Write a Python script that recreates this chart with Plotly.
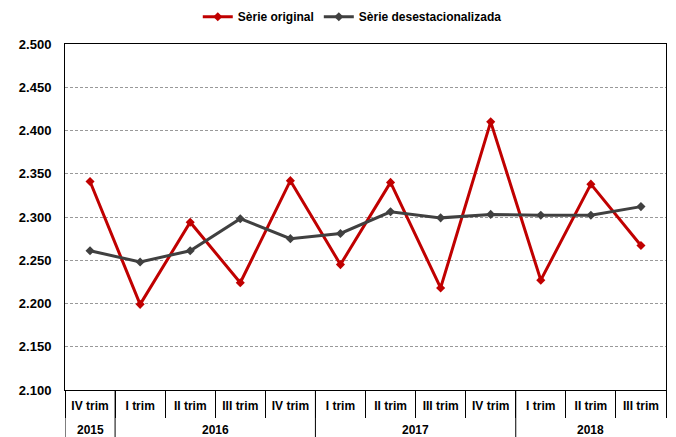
import plotly.graph_objects as go

years = ["2015", "2016", "2016", "2016", "2016", "2017", "2017", "2017", "2017", "2018", "2018", "2018"]
quarters = ["IV trim", "I trim", "II trim", "III trim", "IV trim", "I trim", "II trim", "III trim", "IV trim", "I trim", "II trim", "III trim"]
serie_original = [2341, 2199, 2294, 2224, 2342, 2245, 2340, 2218, 2410, 2227, 2338, 2267]
serie_desest = [2261, 2248, 2261, 2298, 2275, 2281, 2306, 2299, 2303, 2302, 2302, 2312]
y_ticks = [2100, 2150, 2200, 2250, 2300, 2350, 2400, 2450, 2500]

font_family = "Liberation Sans Narrow, Arial Narrow, Liberation Sans, Arial"

x_keys = [f"{q} {y}" for q, y in zip(quarters, years)]

fig = go.Figure()
fig.add_trace(go.Scatter(
    x=x_keys, y=serie_original, name="Sèrie original",
    mode="lines+markers", line=dict(color="#C00000", width=3),
    marker=dict(symbol="diamond", size=7, color="#C00000")))
fig.add_trace(go.Scatter(
    x=x_keys, y=serie_desest, name="Sèrie desestacionalizada",
    mode="lines+markers", line=dict(color="#404040", width=3),
    marker=dict(symbol="diamond", size=7, color="#404040")))

plot_h = 437 - 44 - 47
bottom_frac = -47 / plot_h

# year group labels and dividers
groups = []
for i, y in enumerate(years):
    if not groups or groups[-1][0] != y:
        groups.append([y, i, i])
    else:
        groups[-1][2] = i

annotations = []
shapes = []
for y, i0, i1 in groups:
    annotations.append(dict(x=(i0 + i1) / 2, xref="x", y=-40 / plot_h, yref="paper",
                            text=y, showarrow=False, yanchor="middle",
                            font=dict(family=font_family, size=12, color="black", weight="bold")))
    shapes.append(dict(type="line", xref="x", yref="paper", x0=i0 - 0.5, x1=i0 - 0.5,
                       y0=0, y1=bottom_frac, line=dict(color="black", width=1)))

fig.update_layout(
    width=676, height=437,
    margin=dict(l=65, r=10, t=44, b=47, autoexpand=False),
    paper_bgcolor="white", plot_bgcolor="white",
    separators=",.",
    font=dict(family=font_family, size=12, color="black"),
    showlegend=True,
    legend=dict(orientation="h", x=0.478, xanchor="center", y=0.995, yanchor="top",
                yref="container",
                font=dict(family=font_family, size=12, color="black", weight="bold")),
    annotations=annotations,
    shapes=shapes,
    xaxis=dict(type="category", range=[-0.5, len(years) - 0.5],
               tickmode="array", tickvals=x_keys, ticktext=quarters,
               showline=True, linecolor="black", linewidth=1, mirror=True,
               tickson="boundaries", ticks="outside", ticklen=27, tickcolor="black",
               showgrid=False, ticklabelstandoff=5,
               tickfont=dict(family=font_family, size=12, color="black", weight="bold")),
    yaxis=dict(range=[2100, 2500], tickvals=y_ticks, tickformat=",d",
               showline=True, linecolor="black", linewidth=1, mirror=True,
               showgrid=True, gridcolor="#999999", griddash="3px,2px", gridwidth=1,
               ticks="", ticklabelstandoff=10, zeroline=False,
               tickfont=dict(family=font_family, size=13, color="black", weight="bold")),
)

fig.write_html("out.html", config={"displayModeBar": False},
               post_script="document.body.style.margin='0';")
